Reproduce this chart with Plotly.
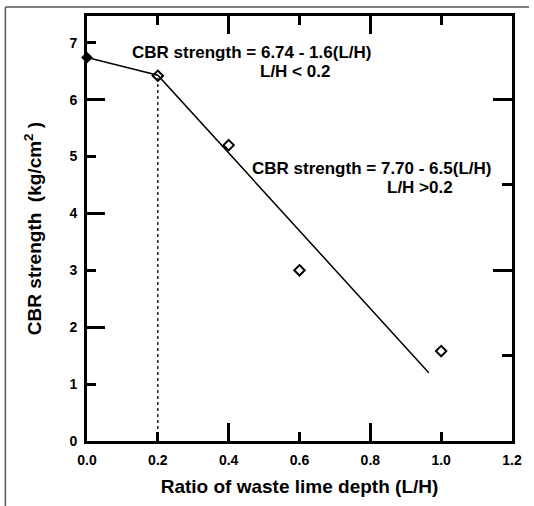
import plotly.graph_objects as go

# data
ratio = [0.0, 0.2, 0.4, 0.6, 1.0]
cbr = [6.74, 6.42, 5.2, 3.0, 1.58]
fit_x = [0.0, 0.2, 0.965]
fit_y = [6.74, 6.43, 1.2]
div_x = [0.2, 0.2]
div_y = [0.0, 6.4]

x_ticks = [0.0, 0.2, 0.4, 0.6, 0.8, 1.0, 1.2]
x_long = [0.4, 0.8]
y_ticks = [0, 1, 2, 3, 4, 5, 6, 7]
y_long = [2, 4, 6]
r_short = [1.5, 4.5]
r_long = [3, 6]

FONT = "Liberation Sans, Arial, sans-serif"
XR = [0, 1.2]
YR = [0, 7.47]

fig = go.Figure()
fig.add_trace(go.Scatter(x=fit_x, y=fit_y, mode="lines",
                         line=dict(color="black", width=1.5), hoverinfo="skip"))
fig.add_trace(go.Scatter(x=div_x, y=div_y, mode="lines",
                         line=dict(color="black", width=1.3, dash="dot"), hoverinfo="skip"))
fig.add_trace(go.Scatter(x=ratio[1:], y=cbr[1:], mode="markers", cliponaxis=False,
                         marker=dict(symbol="diamond-open", size=8, color="black",
                                     line=dict(width=2, color="black"))))
fig.add_trace(go.Scatter(x=ratio[:1], y=cbr[:1], mode="markers", cliponaxis=False,
                         marker=dict(symbol="diamond", size=9, color="black")))
# empty traces to register overlay tick axes
fig.add_trace(go.Scatter(x=[], y=[], xaxis="x2", yaxis="y"))
fig.add_trace(go.Scatter(x=[], y=[], xaxis="x", yaxis="y2"))
fig.add_trace(go.Scatter(x=[], y=[], xaxis="x", yaxis="y3"))
fig.add_trace(go.Scatter(x=[], y=[], xaxis="x", yaxis="y4"))

common = dict(showgrid=False, zeroline=False, ticks="inside", tickcolor="black",
              tickwidth=3, linecolor="black")

fig.update_layout(
    width=534, height=506,
    margin=dict(l=87, r=17, t=16, b=64),
    paper_bgcolor="white", plot_bgcolor="white",
    showlegend=False,
    font=dict(family=FONT, color="black"),
    xaxis=dict(range=XR, tickvals=x_ticks, ticktext=[f"<b>{v:.1f}</b>" for v in x_ticks],
               ticklen=9, showline=True, linewidth=3, mirror="ticks", ticklabelstandoff=4,
               tickfont=dict(size=14, family=FONT),
               title=dict(text="<b>Ratio of waste lime depth (L/H)</b>",
                          font=dict(size=19, family=FONT), standoff=13),
               **common),
    xaxis2=dict(range=XR, overlaying="x", anchor="y", side="bottom", tickvals=x_long,
                ticklen=18, showline=False, mirror="ticks", showticklabels=False, **common),
    yaxis=dict(range=YR, tickvals=y_ticks, ticktext=[f"<b>{v}</b>" for v in y_ticks],
               ticklen=9, showline=True, linewidth=3, ticklabelstandoff=4,
               mirror=False, tickfont=dict(size=14, family=FONT),
               title=dict(text="<b>CBR strength  (kg/cm<sup>2</sup> )</b>",
                          font=dict(size=19, family=FONT), standoff=23),
               **common),
    yaxis2=dict(range=YR, overlaying="y", anchor="x", side="left", tickvals=y_long,
                ticklen=18, showline=False, showticklabels=False, **common),
    yaxis3=dict(range=YR, overlaying="y", anchor="x", side="right", tickvals=r_short,
                ticklen=10, showline=True, linewidth=3, showticklabels=False, **common),
    yaxis4=dict(range=YR, overlaying="y", anchor="x", side="right", tickvals=r_long,
                ticklen=19, showline=False, showticklabels=False, **common),
)

ann_font = dict(size=17, family=FONT, color="black")
anns = [
    ("CBR strength = 6.74 - 1.6(L/H)", 0.12, 6.82),
    ("L/H < 0.2", 0.483, 6.49),
    ("CBR strength = 7.70 - 6.5(L/H)", 0.46, 4.79),
    ("L/H >0.2", 0.84, 4.46),
]
for text, ax, ay in anns:
    fig.add_annotation(x=ax, y=ay, xref="x", yref="y", text=f"<b>{text}</b>", showarrow=False,
                       xanchor="left", yanchor="middle", font=ann_font)

# scanned-page frame lines
fig.add_shape(type="line", xref="paper", yref="paper", x0=-0.192, x1=1.04, y0=1.021, y1=1.021,
              line=dict(color="#555", width=1.5))
fig.add_shape(type="line", xref="paper", yref="paper", x0=-0.192, x1=-0.192, y0=1.021, y1=-0.16,
              line=dict(color="#555", width=1.5))

fig.write_html("out.html")
